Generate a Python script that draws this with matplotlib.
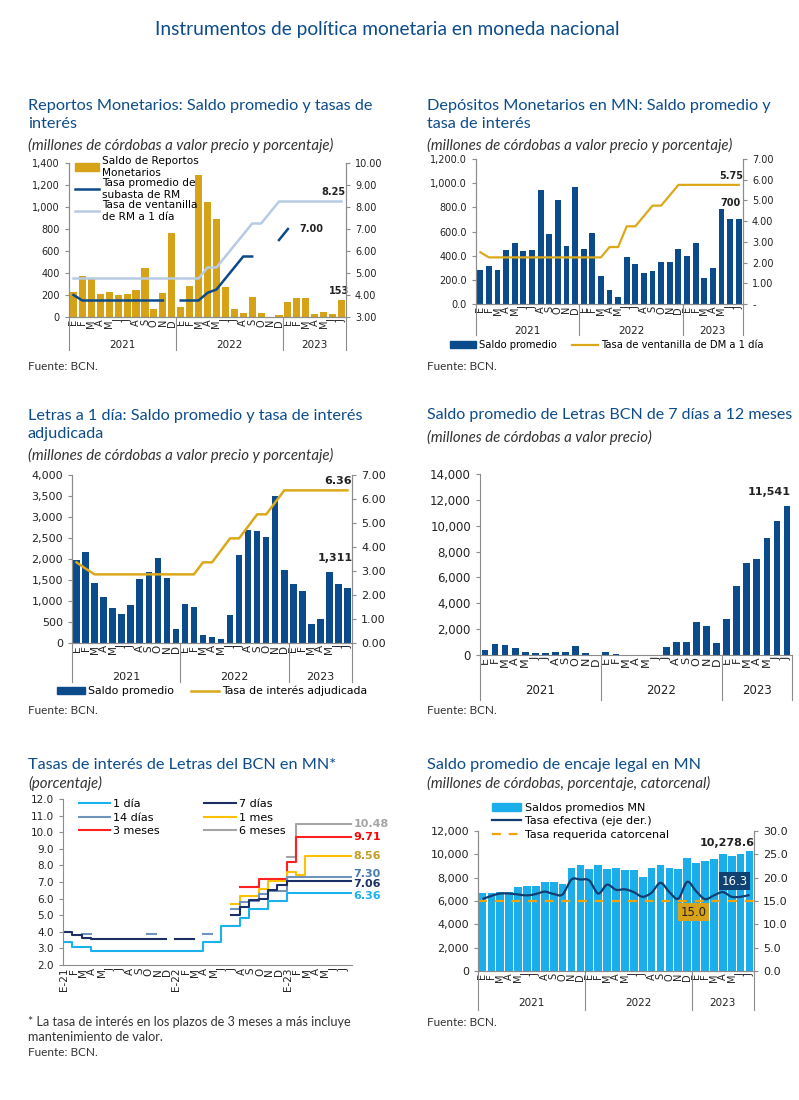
import numpy as np
import matplotlib
matplotlib.use("Agg")
import matplotlib.pyplot as plt
import matplotlib.transforms as mtransforms
from matplotlib.path import Path
from matplotlib.patches import PathPatch, Patch
from matplotlib.lines import Line2D
from matplotlib.ticker import FuncFormatter, MultipleLocator

na = np.nan

# eje de categorias (ene-2021 a jul-2023)
meses = list("EFMAMJJASOND") * 2 + list("EFMAMJJ")
anios = ["2021", "2022", "2023"]
meses_por_anio = [12, 12, 7]

# Reportos monetarios
rm_saldo = [230, 375, 345, 210, 225, 200, 210, 245, 445, 75, 215, 760,
            95, 285, 1290, 1045, 890, 275, 70, 40, 185, 40, 0, 20,
            140, 175, 170, 25, 45, 30, 153]
rm_subasta = [4.00, 3.75, 3.75, 3.75, 3.75, 3.75, 3.75, 3.75, 3.75, 3.75, 3.75, na,
              3.75, 3.75, 3.75, 4.10, 4.25, 4.75, 5.25, 5.75, 5.75, na, na, 6.50,
              7.00, na, na, na, na, na, na]
rm_ventanilla = [4.75, 4.75, 4.75, 4.75, 4.75, 4.75, 4.75, 4.75, 4.75, 4.75, 4.75, 4.75,
                 4.75, 4.75, 4.75, 5.25, 5.25, 5.75, 6.25, 6.75, 7.25, 7.25, 7.75, 8.25,
                 8.25, 8.25, 8.25, 8.25, 8.25, 8.25, 8.25]

# Depositos monetarios
dm_saldo = [285, 315, 285, 445, 505, 435, 450, 940, 580, 860, 480, 965,
            455, 585, 235, 120, 60, 390, 330, 260, 275, 350, 350, 455,
            395, 505, 215, 300, 790, 700, 700]
dm_tasa = [2.50, 2.25, 2.25, 2.25, 2.25, 2.25, 2.25, 2.25, 2.25, 2.25, 2.25, 2.25,
           2.25, 2.25, 2.25, 2.75, 2.75, 3.75, 3.75, 4.25, 4.75, 4.75, 5.25, 5.75,
           5.75, 5.75, 5.75, 5.75, 5.75, 5.75, 5.75]

# Letras a 1 dia
l1_saldo = [1980, 2170, 1420, 1100, 840, 690, 910, 1520, 1690, 2020, 1540, 330,
            920, 860, 200, 140, 100, 660, 2090, 2700, 2660, 2520, 3500, 1750,
            1410, 1230, 450, 580, 1690, 1410, 1311]
l1_tasa = [3.36, 3.10, 2.86, 2.86, 2.86, 2.86, 2.86, 2.86, 2.86, 2.86, 2.86, 2.86,
           2.86, 2.86, 3.36, 3.36, 3.86, 4.36, 4.36, 4.86, 5.36, 5.36, 5.86, 6.36,
           6.36, 6.36, 6.36, 6.36, 6.36, 6.36, 6.36]

# Letras de 7 dias a 12 meses
l7_saldo = [400, 820, 780, 550, 260, 130, 130, 240, 230, 670, 150, 0,
            220, 80, 0, 0, 0, 0, 600, 980, 1000, 2530, 2220, 920,
            2760, 5350, 7080, 7400, 9040, 10350, 11541]

# Tasas de Letras (mensual)
meses_tasas = ["E-21", "F", "M", "A", "M", "J", "J", "A", "S", "O", "N", "D",
               "E-22", "F", "M", "A", "M", "J", "J", "A", "S", "O", "N", "D",
               "E-23", "F", "M", "A", "M", "J", "J"]
t_1dia = [3.36, 3.10, 3.10, 2.86, 2.86, 2.86, 2.86, 2.86, 2.86, 2.86, 2.86, 2.86,
          2.86, 2.86, 2.86, 3.36, 3.36, 4.36, 4.36, 4.86, 5.36, 5.36, 5.86, 5.86,
          6.36, 6.36, 6.36, 6.36, 6.36, 6.36, 6.36]
t_7dias = [4.00, 3.80, 3.65, 3.55, 3.55, 3.55, 3.55, 3.55, 3.55, 3.55, 3.55, na,
           3.55, 3.55, na, na, na, na, 5.00, 5.50, 5.90, 6.00, 6.50, 6.80,
           7.06, 7.06, 7.06, 7.06, 7.06, 7.06, 7.06]
t_14dias = [na, na, 3.85, na, na, na, na, na, na, 3.85, na, na,
            na, na, na, 3.85, na, na, 5.35, 5.80, 5.85, 6.30, 6.45, 6.45,
            7.30, 7.30, 7.30, 7.30, 7.30, 7.30, 7.30]
t_1mes = [na, na, na, na, na, na, na, na, na, na, na, na,
          na, na, na, na, na, na, 5.65, 6.15, 6.15, 6.60, 7.05, 7.05,
          7.60, 7.45, 8.56, 8.56, 8.56, 8.56, 8.56]
t_3meses = [na, na, na, na, na, na, na, na, na, na, na, na,
            na, na, na, na, na, na, na, 6.70, 6.70, 7.20, 7.20, 7.20,
            8.20, 9.71, 9.71, 9.71, 9.71, 9.71, 9.71]
t_6meses = [na, na, na, na, na, na, na, na, na, na, na, na,
            na, na, na, na, na, na, na, na, na, na, na, na,
            8.50, 10.48, 10.48, 10.48, 10.48, 10.48, 10.48]
nombres_tasas = ["1 día", "14 días", "3 meses", "7 días", "1 mes", "6 meses"]

# Encaje legal
enc_saldo = [6700, 6700, 6800, 6800, 7200, 7250, 7250, 7600, 7600, 7500, 8800, 9100,
             8750, 9100, 8750, 8800, 8700, 8650, 8050, 8800, 9050, 8850, 8750, 9700,
             9300, 9400, 9600, 10050, 9900, 10050, 10278.6]
enc_efectiva = [15.4, 16.1, 16.6, 16.6, 16.4, 16.2, 16.5, 17.0, 16.5, 16.4, 19.6, 19.6,
                19.4, 16.6, 18.5, 17.4, 17.5, 16.9, 15.9, 16.8, 18.9, 16.9, 15.5, 19.1,
                17.1, 15.4, 16.2, 16.9, 15.9, 15.9, 16.3]
enc_requerida = 15.0

# estilos
W, H = 799, 1100
TITULO = "#0d4c8b"
TXT = "#222222"
GRIS = "#8c8c8c"
ORO_BAR = "#d6a318"
AZUL_BAR = "#0b4b8c"
AZUL_LINEA = "#0c4a89"
CELESTE = "#b7cbe3"
ORO_LINEA = "#dba81a"
ENCAJE = "#1caeea"
EFECTIVA = "#143d6f"
REQUERIDA = "#f0a30a"
FT = "Lato"
FS_TIT = 11.7
FS_SUB = 10.8

fig = plt.figure(figsize=(W / 100, H / 100), dpi=100)
fig.patch.set_facecolor("white")


def add_axes_px(x0, y0, x1, y1):
    return fig.add_axes([x0 / W, 1 - y1 / H, (x1 - x0) / W, (y1 - y0) / H])


def ftext(x, y, s, **kw):
    fig.text(x / W, 1 - y / H, s, **kw)


def cabecera(x, y, titulo, sub, y_sub):
    ftext(x, y, titulo, fontsize=FS_TIT, color=TITULO, family=FT, va="center",
          linespacing=1.3)
    ftext(x, y_sub, sub, fontsize=FS_SUB, color="#333333", family=FT, style="italic",
          va="center")


def estilo(ax, derecha=False, fs=7):
    ax.spines["top"].set_visible(False)
    ax.spines["right"].set_visible(derecha)
    for s in ax.spines.values():
        s.set_color(GRIS)
        s.set_linewidth(0.8)
    ax.tick_params(colors=GRIS, labelcolor=TXT, length=3, width=0.8, labelsize=fs)
    ax.set_facecolor("none")


def eje_meses(ax, caida, y_anio, fs_mes=7, fs_anio=7.5):
    n = len(meses)
    ax.set_xlim(-0.5, n - 0.5)
    ax.set_xticks(np.arange(n))
    ax.set_xticklabels(meses, rotation=90, fontsize=fs_mes)
    ax.tick_params(axis="x", length=0, pad=1.5)
    h = ax.get_position().height * H
    trans = mtransforms.blended_transform_factory(ax.transData, ax.transAxes)
    bordes = np.concatenate([[0], np.cumsum(meses_por_anio)]) - 0.5
    for b in bordes:
        ax.plot([b, b], [0, -caida / h], transform=trans, color=GRIS, lw=0.8,
                clip_on=False)
    for k, a in enumerate(anios):
        ax.text((bordes[k] + bordes[k + 1]) / 2, -y_anio / h, a, transform=trans,
                ha="center", va="center", fontsize=fs_anio, color=TXT)


def miles(dec=0):
    return FuncFormatter(lambda v, p: f"{v:,.{dec}f}")


def curva_suave(x, y):
    x = np.asarray(x, float)
    y = np.asarray(y, float)
    n = len(x)
    verts = [(x[0], y[0])]
    codes = [Path.MOVETO]
    for i in range(n - 1):
        xa, ya = (x[i - 1], y[i - 1]) if i > 0 else (x[i], y[i])
        xb, yb = (x[i + 2], y[i + 2]) if i + 2 < n else (x[i + 1], y[i + 1])
        verts += [(x[i] + (x[i + 1] - xa) / 6, y[i] + (y[i + 1] - ya) / 6),
                  (x[i + 1] - (xb - x[i]) / 6, y[i + 1] - (yb - y[i]) / 6),
                  (x[i + 1], y[i + 1])]
        codes += [Path.CURVE4] * 3
    return Path(verts, codes)


x = np.arange(len(meses))
bold = dict(fontweight="bold", color=TXT)

ftext(387, 30, "Instrumentos de política monetaria en moneda nacional",
      fontsize=13.8, color=TITULO, family=FT, ha="center", va="center")

# ---------- 1. Reportos ----------
cabecera(28, 115, "Reportos Monetarios: Saldo promedio y tasas de\ninterés",
         "(millones de córdobas a valor precio y porcentaje)", 145)
ax = add_axes_px(69, 163, 346, 317)
ax.bar(x, rm_saldo, width=0.8, color=ORO_BAR)
ax.set_ylim(0, 1400)
ax.yaxis.set_major_locator(MultipleLocator(200))
ax.yaxis.set_major_formatter(miles())
estilo(ax, derecha=True)
axr = ax.twinx()
axr.plot(x, rm_subasta, color=AZUL_LINEA, lw=1.8)
axr.plot(x, rm_ventanilla, color=CELESTE, lw=1.8)
axr.set_ylim(3, 10)
axr.yaxis.set_major_locator(MultipleLocator(1))
axr.yaxis.set_major_formatter(FuncFormatter(lambda v, p: f"{v:.2f}"))
estilo(axr, derecha=True)
eje_meses(ax, 33, 28)
axr.annotate("8.25", (30, rm_ventanilla[-1]), xytext=(3, 3), textcoords="offset points",
             ha="right", va="bottom", fontsize=7, **bold)
axr.annotate("7.00", (24, rm_subasta[24]), xytext=(8, 0), textcoords="offset points",
             ha="left", va="center", fontsize=7, **bold)
ax.annotate("153", (30, rm_saldo[-1]), xytext=(-2, 3), textcoords="offset points",
            ha="center", va="bottom", fontsize=7, **bold)
axr.legend([Patch(color=ORO_BAR), Line2D([], [], color=AZUL_LINEA, lw=1.8),
            Line2D([], [], color=CELESTE, lw=1.8)],
           ["Saldo de Reportos\nMonetarios", "Tasa promedio de\nsubasta de RM",
            "Tasa de ventanilla\nde RM a 1 día"],
           loc="upper left", bbox_to_anchor=(0.02, 1.045), frameon=False, fontsize=7.6,
           handlelength=2.3, handletextpad=0.3, labelspacing=0.05, borderpad=0,
           borderaxespad=0)
ftext(28, 367, "Fuente: BCN.", fontsize=8.5, color="#333333", family=FT, va="center")

# ---------- 2. Depositos ----------
cabecera(427, 115, "Depósitos Monetarios en MN: Saldo promedio y\ntasa de interés",
         "(millones de córdobas a valor precio y porcentaje)", 145)
ax = add_axes_px(476, 159, 743, 304)
ax.bar(x, dm_saldo, width=0.68, color=AZUL_BAR)
ax.set_ylim(0, 1200)
ax.yaxis.set_major_locator(MultipleLocator(200))
ax.yaxis.set_major_formatter(miles(1))
estilo(ax, derecha=True)
axr = ax.twinx()
axr.plot(x, dm_tasa, color=ORO_LINEA, lw=1.6)
axr.set_ylim(0, 7)
axr.yaxis.set_major_locator(MultipleLocator(1))
axr.yaxis.set_major_formatter(FuncFormatter(lambda v, p: "-" if v == 0 else f"{v:.2f}"))
estilo(axr, derecha=True)
eje_meses(ax, 31, 27)
axr.annotate("5.75", (30, dm_tasa[-1]), xytext=(3, 3), textcoords="offset points",
             ha="right", va="bottom", fontsize=7, **bold)
ax.annotate("700", (29, dm_saldo[29]), xytext=(0, 8), textcoords="offset points",
            ha="center", va="bottom", fontsize=7, **bold)
ax.legend([Patch(color=AZUL_BAR), Line2D([], [], color=ORO_LINEA, lw=1.6)],
          ["Saldo promedio", "Tasa de ventanilla de DM a 1 día"],
          loc="center", bbox_to_anchor=(0.49, -0.285), ncol=2, frameon=False,
          fontsize=7.2, handlelength=2.6, handletextpad=0.3, columnspacing=1.5)
ftext(427, 367, "Fuente: BCN.", fontsize=8.5, color="#333333", family=FT, va="center")

# ---------- 3. Letras a 1 dia ----------
cabecera(28, 425, "Letras a 1 día: Saldo promedio y tasa de interés\nadjudicada",
         "(millones de córdobas a valor precio y porcentaje)", 455)
ax = add_axes_px(72, 475, 352, 643)
ax.bar(x, l1_saldo, width=0.72, color=AZUL_BAR)
ax.set_ylim(0, 4000)
ax.yaxis.set_major_locator(MultipleLocator(500))
ax.yaxis.set_major_formatter(miles())
estilo(ax, derecha=True, fs=8)
axr = ax.twinx()
axr.plot(x, l1_tasa, color=ORO_LINEA, lw=1.8)
axr.set_ylim(0, 7)
axr.yaxis.set_major_locator(MultipleLocator(1))
axr.yaxis.set_major_formatter(FuncFormatter(lambda v, p: f"{v:.2f}"))
estilo(axr, derecha=True, fs=8)
eje_meses(ax, 39, 34, fs_mes=7.5, fs_anio=8)
axr.annotate("6.36", (30, l1_tasa[-1]), xytext=(3, 3), textcoords="offset points",
             ha="right", va="bottom", fontsize=8, **bold)
ax.annotate("1,311", (30, l1_saldo[-1]), xytext=(4, 18), textcoords="offset points",
            ha="right", va="bottom", fontsize=8, **bold)
ax.legend([Patch(color=AZUL_BAR), Line2D([], [], color=ORO_LINEA, lw=1.8)],
          ["Saldo promedio", "Tasa de interés adjudicada"],
          loc="center", bbox_to_anchor=(0.5, -0.286), ncol=2, frameon=False,
          fontsize=7.8, handlelength=2.6, handletextpad=0.3, columnspacing=1.5)
ftext(28, 711, "Fuente: BCN.", fontsize=8.5, color="#333333", family=FT, va="center")

# ---------- 4. Letras 7 dias a 12 meses ----------
ftext(427, 415, "Saldo promedio de Letras BCN de 7 días a 12 meses", fontsize=11.5,
      color=TITULO, family=FT, va="center")
ftext(427, 437, "(millones de córdobas a valor precio)", fontsize=FS_SUB, color="#333333",
      family=FT, style="italic", va="center")
ax = add_axes_px(480, 474, 792, 655)
ax.bar(x, l7_saldo, width=0.66, color=AZUL_BAR)
ax.set_ylim(0, 14000)
ax.yaxis.set_major_locator(MultipleLocator(2000))
ax.yaxis.set_major_formatter(miles())
estilo(ax, fs=8.5)
eje_meses(ax, 45, 35, fs_mes=8, fs_anio=8.5)
ax.annotate("11,541", (30, l7_saldo[-1]), xytext=(3, 6), textcoords="offset points",
            ha="right", va="bottom", fontsize=8, **bold)
ftext(427, 711, "Fuente: BCN.", fontsize=8.5, color="#333333", family=FT, va="center")

# ---------- 5. Tasas de Letras ----------
ftext(28, 765, "Tasas de interés de Letras del BCN en MN*", fontsize=FS_TIT,
      color=TITULO, family=FT, va="center")
ftext(28, 783, "(porcentaje)", fontsize=FS_SUB, color="#333333", family=FT,
      style="italic", va="center")
ax = add_axes_px(63, 799, 352, 965)
series = [t_1dia, t_14dias, t_3meses, t_7dias, t_1mes, t_6meses]
colores = ["#1ab2ec", "#6e93bd", "#ff2020", "#1b2f66", "#ffc000", "#a5a5a5"]
orden_dibujo = [5, 2, 4, 1, 3, 0]
xs = np.arange(len(meses_tasas) + 1)
lineas = {}
for k in orden_dibujo:
    v = series[k]
    lineas[k], = ax.plot(xs, np.append(v, v[-1]), drawstyle="steps-post",
                         color=colores[k], lw=1.5)
ax.set_xlim(0, len(meses_tasas))
ax.set_ylim(2, 12)
ax.yaxis.set_major_locator(MultipleLocator(1))
ax.yaxis.set_major_formatter(FuncFormatter(lambda v, p: f"{v:.1f}"))
estilo(ax, fs=7.5)
ax.set_xticks(np.arange(len(meses_tasas)) + 0.15)
ax.set_xticklabels(meses_tasas, rotation=90, fontsize=7.5)
ax.tick_params(axis="x", length=0, pad=2)
ax.legend([lineas[k] for k in range(6)], nombres_tasas, loc="upper left",
          bbox_to_anchor=(0.055, 1.0), ncol=2, frameon=False, fontsize=8,
          handlelength=2.8, handletextpad=0.3, labelspacing=0.33, columnspacing=4.0,
          borderpad=0, borderaxespad=0)
etiquetas = [("10.48", t_6meses[-1], "#a5a5a5", 0), ("9.71", t_3meses[-1], "#ff0000", 0),
             ("8.56", t_1mes[-1], "#c39b2a", 0), ("7.30", t_14dias[-1], "#4a7bb0", 2),
             ("7.06", t_7dias[-1], "#1b2f66", -2.5), ("6.36", t_1dia[-1], "#1ab2ec", -2.5)]
for s, v, c, dy in etiquetas:
    ax.annotate(s, (len(meses_tasas), v), xytext=(1, dy), textcoords="offset points",
                ha="left", va="center", fontsize=8, fontweight="bold", color=c,
                annotation_clip=False)
ftext(28, 1022, "* La tasa de interés en los plazos de 3 meses a más incluye",
      fontsize=9.1, color="#333333", family=FT, va="center")
ftext(28, 1037, "mantenimiento de valor.", fontsize=9.1, color="#333333", family=FT,
      va="center")
ftext(28, 1053, "Fuente: BCN.", fontsize=8.5, color="#333333", family=FT, va="center")

# ---------- 6. Encaje legal ----------
ftext(427, 765, "Saldo promedio de encaje legal en MN", fontsize=FS_TIT, color=TITULO,
      family=FT, va="center")
ftext(427, 783, "(millones de córdobas, porcentaje, catorcenal)", fontsize=FS_SUB,
      color="#333333", family=FT, style="italic", va="center")
ax = add_axes_px(478, 831, 754, 971)
ax.bar(x, enc_saldo, width=0.86, color=ENCAJE)
ax.set_ylim(0, 12000)
ax.yaxis.set_major_locator(MultipleLocator(2000))
ax.yaxis.set_major_formatter(miles())
estilo(ax, derecha=True, fs=8)
axr = ax.twinx()
axr.add_patch(PathPatch(curva_suave(x, enc_efectiva), facecolor="none",
                        edgecolor=EFECTIVA, lw=1.6))
axr.axhline(enc_requerida, color=REQUERIDA, lw=1.6, ls=(0, (4, 3.5)))
axr.set_ylim(0, 30)
axr.yaxis.set_major_locator(MultipleLocator(5))
axr.yaxis.set_major_formatter(FuncFormatter(lambda v, p: f"{v:.1f}"))
estilo(axr, derecha=True, fs=8)
eje_meses(ax, 39, 32, fs_mes=7, fs_anio=7.5)
ax.annotate("10,278.6", (30, enc_saldo[-1]), xytext=(4, 2), textcoords="offset points",
            ha="right", va="bottom", fontsize=8, **bold)
axr.annotate(f"{enc_efectiva[-1]:.1f}", (30, enc_efectiva[-1]), xytext=(-11, 10),
             textcoords="offset points", ha="center", va="center", fontsize=8.5,
             color="white", bbox=dict(boxstyle="square,pad=0.2", fc="#0d4273", ec="none"))
axr.annotate(f"{enc_requerida:.1f}", (24, enc_requerida), xytext=(-2, -8),
             textcoords="offset points", ha="center", va="center", fontsize=8.5,
             color=TXT, bbox=dict(boxstyle="square,pad=0.2", fc="#d9a21b", ec="none"))
axr.legend([Patch(color=ENCAJE), Line2D([], [], color=EFECTIVA, lw=1.6),
            Line2D([], [], color=REQUERIDA, lw=1.6, ls=(0, (4, 3.5)))],
           ["Saldos promedios MN", "Tasa efectiva (eje der.)", "Tasa requerida catorcenal"],
           loc="upper left", bbox_to_anchor=(0.05, 1.20), frameon=False, fontsize=8,
           handlelength=2.6, handletextpad=0.4, labelspacing=0.3, borderpad=0,
           borderaxespad=0)
ftext(427, 1022, "Fuente: BCN.", fontsize=8.5, color="#333333", family=FT, va="center")

fig.savefig("out.png", dpi=100)
